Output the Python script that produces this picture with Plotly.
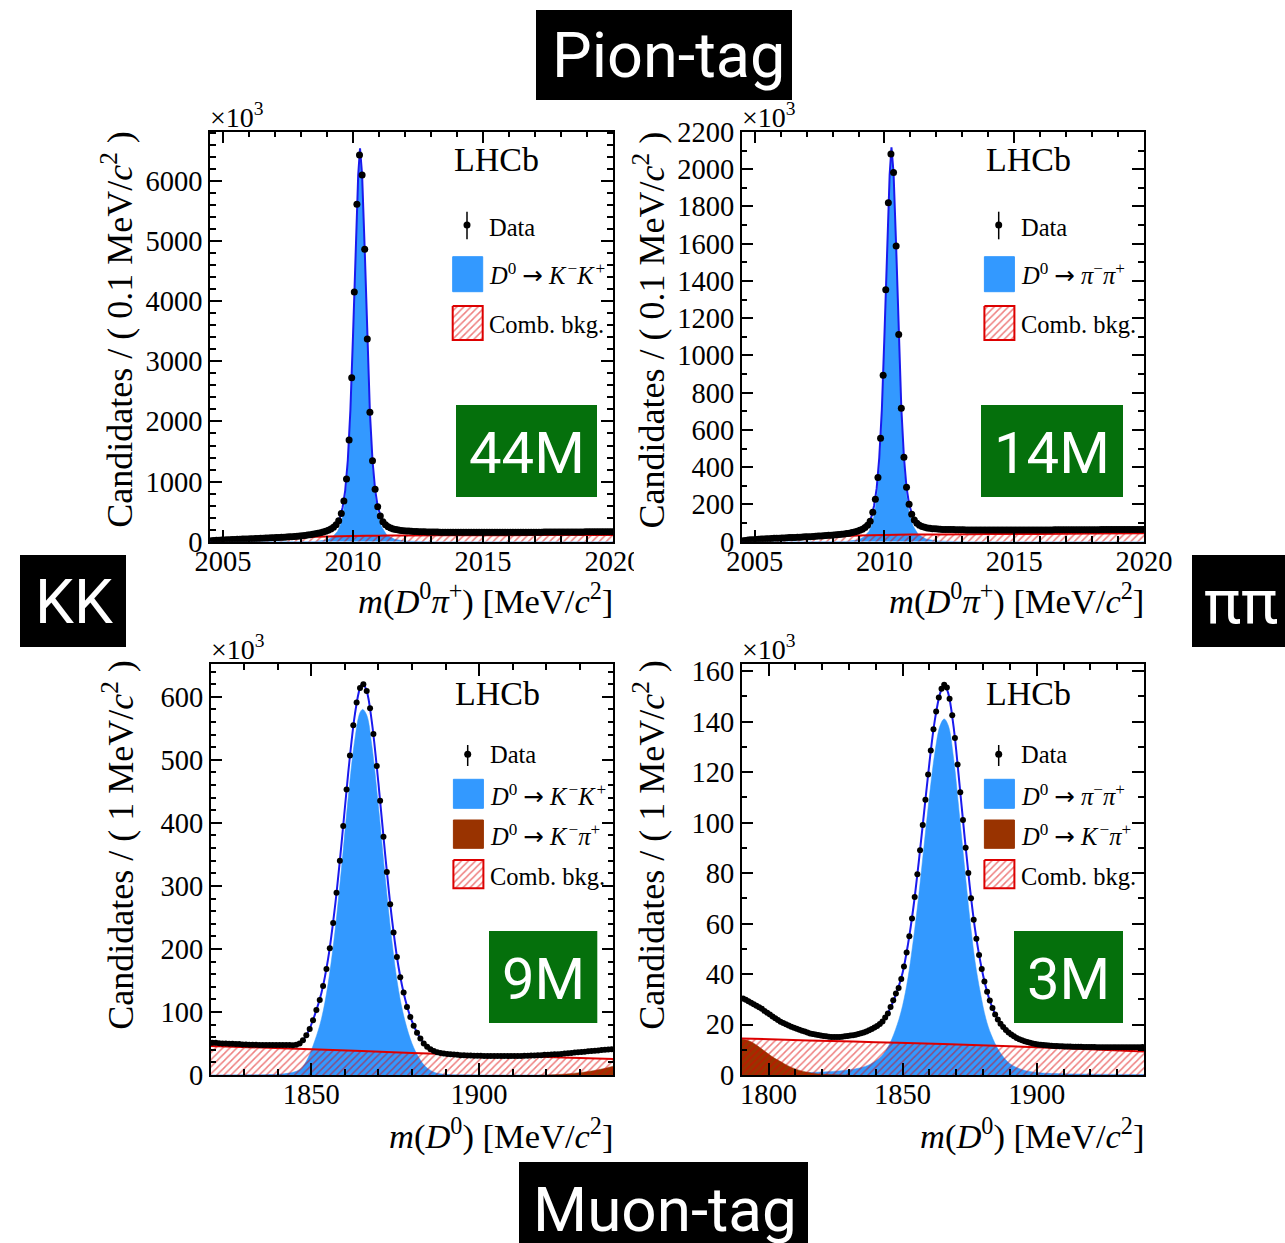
import numpy as np
import plotly.graph_objects as go

W, H = 1285, 1243

# ---------------- Pion-tag, D0 -> K-K+ (top-left) ----------------
tl_bin_start = 2004.5
tl_bin_width = 0.1
tl_counts = [
    15, 20, 23, 26, 28,
    30, 32, 34, 36, 38, 40, 41, 43, 45, 46,
    48, 50, 52, 54, 56, 58, 60, 62, 64, 66,
    68, 70, 72, 75, 78, 81, 84, 87, 90, 94,
    100, 105, 110, 116, 123, 131, 140, 150, 161, 174,
    190, 210, 240, 280, 349, 471, 677, 1043, 1692, 2729,
    4154, 5613, 6434, 6101, 4864, 3372, 2152, 1348, 871, 582,
    427, 333, 283, 250, 228, 213, 202, 194, 188, 183,
    179, 176, 173, 171, 169, 167, 165, 164, 163, 162,
    161, 160, 160, 159, 159, 158, 158, 158, 157, 157,
    157, 157, 156, 156, 156, 156, 156, 156, 156, 156,
    156, 156, 156, 156, 156, 156, 156, 157, 157, 157,
    157, 157, 157, 158, 158, 158, 158, 158, 159, 159,
    159, 159, 159, 160, 160, 160, 160, 161, 161, 161,
    161, 162, 162, 162, 162, 163, 163, 163, 163, 164,
    164, 164, 164, 165, 165, 165, 165, 166, 166, 166,
]
tl_fit_x = [2004.5, 2005, 2006, 2007, 2008, 2008.5, 2009, 2009.2, 2009.4, 2009.5, 2009.6,
            2009.7, 2009.8, 2009.9, 2010.0, 2010.1, 2010.2, 2010.27, 2010.35, 2010.45,
            2010.55, 2010.65, 2010.75, 2010.85, 2010.95, 2011.1, 2011.3, 2011.6, 2012,
            2013, 2015, 2020]
tl_fit_total = [0, 29, 47, 67, 97, 120, 182, 218, 310, 405, 570, 850, 1350, 2190, 3420,
                4880, 6100, 6545, 6101, 4864, 3372, 2152, 1348, 871, 582, 380, 265, 207,
                180, 161, 156, 166]
tl_fit_signal = [0, 0, 0, 0, 0, 3, 30, 75, 170, 260, 420, 700, 1200, 2050, 3290, 4760,
                 6000, 6430, 6000, 4750, 3260, 2040, 1230, 760, 470, 250, 110, 40, 10, 0,
                 0, 0]
tl_comb_x = [2004.5, 2005, 2005.5, 2006, 2007, 2008, 2009, 2010, 2011, 2012, 2014, 2016, 2018, 2020]
tl_comb = [0, 22, 35, 45, 62, 76, 88, 96, 101, 104, 107, 109, 111, 113]

# ---------------- Pion-tag, D0 -> pi-pi+ (top-right) ----------------
tr_bin_start = 2004.5
tr_bin_width = 0.1
tr_counts = [
    5, 7, 9, 10, 11,
    12, 13, 14, 15, 16, 16, 17, 18, 18, 19,
    20, 20, 21, 22, 22, 23, 24, 24, 25, 26,
    26, 27, 28, 29, 30, 31, 32, 33, 34, 35,
    36, 37, 38, 40, 42, 44, 46, 49, 52, 56,
    61, 67, 76, 88, 110, 158, 228, 344, 556, 893,
    1352, 1819, 2081, 1982, 1587, 1112, 717, 454, 292, 201,
    147, 117, 99, 88, 81, 77, 74, 72, 70, 69,
    68, 67, 66, 66, 65, 65, 65, 64, 64, 64,
    64, 63, 63, 63, 63, 63, 63, 63, 63, 63,
    63, 63, 63, 63, 63, 63, 63, 63, 63, 63,
    63, 63, 63, 63, 63, 63, 63, 63, 63, 63,
    63, 63, 63, 63, 63, 64, 64, 64, 64, 64,
    64, 64, 64, 64, 64, 64, 64, 64, 64, 64,
    64, 64, 64, 65, 65, 65, 65, 65, 65, 65,
    65, 65, 65, 65, 66, 66, 66, 66, 66, 66,
]
tr_fit_x = list(tl_fit_x)
tr_fit_total = [0, 11, 20, 26, 36, 44, 58, 70, 99, 134, 193, 286, 450, 710, 1110, 1600,
                1970, 2117, 1982, 1587, 1112, 717, 454, 292, 201, 130, 93, 76, 68, 64,
                63, 66]
tr_fit_signal = [0, 0, 0, 0, 0, 1, 10, 25, 55, 85, 140, 230, 390, 660, 1070, 1560, 1930,
                 2075, 1940, 1545, 1065, 670, 410, 250, 160, 85, 40, 15, 4, 0, 0, 0]
tr_comb_x = list(tl_comb_x)
tr_comb = [0, 9, 14, 18, 24, 29, 33, 36, 38, 39, 41, 42, 44, 45]

# ---------------- Muon-tag, D0 -> K-K+ (bottom-left) ----------------
bl_bin_start = 1820
bl_bin_width = 1
bl_counts = [
    51, 51, 50.5, 50, 50, 49.5, 49.5, 49, 49, 48.5,
    48.5, 48, 48, 48, 47.5, 47.5, 47.5, 47.5, 47.5, 47.5,
    47.5, 47.5, 47.5, 47.5, 47, 48, 50, 55, 63, 73,
    87, 103, 119, 141, 168, 201, 241, 289, 340, 395,
    453, 507, 555, 591, 614, 620, 609, 582, 541, 490,
    435, 378, 322, 271, 226, 187, 155, 131, 108, 92,
    78, 67, 58, 50, 45, 41, 38, 36, 35, 34,
    33.5, 33, 32.5, 32, 31.5, 31.5, 31, 31, 30.5, 30.5,
    30.5, 30, 30, 30, 30, 30, 30, 30, 30, 30,
    30, 30, 30, 30.5, 30.5, 31, 31, 31.5, 31.5, 32,
    32, 32.5, 33, 33, 33.5, 34, 34.5, 35, 35.5, 36,
    36.5, 37, 37.5, 38, 38.5, 39, 39.5, 40, 40.5, 41,
]
bl_fit_x = [1820, 1830, 1838, 1842, 1845, 1847, 1849, 1851, 1853, 1855, 1857, 1859, 1861,
            1863, 1864.5, 1865.3, 1866.5, 1868, 1870, 1872, 1874, 1876, 1878, 1880, 1882,
            1884, 1887, 1890, 1895, 1900, 1910, 1920, 1930, 1940]
bl_fit_total = [51, 48.5, 47.5, 47.5, 47.5, 52.5, 68, 95, 130, 184.5, 265, 367.5, 480, 573,
                614, 621, 609, 561.5, 462.5, 350, 248.5, 171, 119.5, 85, 62.5, 47.5, 37,
                33.5, 31.5, 30.5, 30, 32, 36.5, 41]
bl_fit_signal = [0, 0.2, 0.8, 2, 5, 10.5, 27, 54, 89, 145, 226, 329, 441, 534, 575, 580,
                 571, 524, 426, 314, 213, 134, 84, 50, 28, 13.5, 3.5, 1, 0.2, 0, 0, 0, 0, 0]
bl_comb_x = [1820, 1835, 1850, 1865, 1880, 1895, 1910, 1925, 1940]
bl_comb = [46, 43.5, 41, 38, 35, 32.5, 30, 27.7, 25.5]
bl_kpi_x = [1918, 1922, 1926, 1930, 1934, 1937, 1940]
bl_kpi = [0, 0.4, 1.6, 3.7, 6.8, 10, 14]

# ---------------- Muon-tag, D0 -> pi-pi+ (bottom-right) ----------------
br_bin_start = 1790
br_bin_width = 1
br_counts = [
    30.3, 29.8, 29.2, 28.6, 28.0, 27.4, 26.8, 26.2, 25.4, 24.7,
    24.0, 23.2, 22.5, 21.8, 21.1, 20.6, 20.1, 19.6, 19.1, 18.7,
    18.3, 17.9, 17.5, 17.2, 16.8, 16.4, 16.2, 16.0, 15.8, 15.6,
    15.4, 15.3, 15.2, 15.1, 15.1, 15.1, 15.1, 15.2, 15.3, 15.4,
    15.6, 15.7, 15.9, 16.2, 16.5, 16.8, 17.2, 17.7, 18.2, 18.8,
    19.4, 20.2, 21.2, 22.8, 24.4, 26.9, 29.6, 32.3, 34.5, 38.0,
    43.0, 48.5, 55.0, 62.0, 70.5, 79.5, 89.0, 99.0, 109.0, 119.0,
    128.5, 137.0, 144.0, 149.5, 153.0, 154.6, 153.5, 149.0, 142.5, 133.5,
    123.0, 112.0, 101.0, 90.0, 80.0, 70.0, 61.5, 54.0, 47.5, 42.0,
    37.0, 33.0, 29.5, 26.5, 24.0, 22.0, 20.3, 19.0, 17.8, 16.8,
    16.0, 15.3, 14.7, 14.2, 13.8, 13.4, 13.1, 12.8, 12.5, 12.3,
    12.1, 12.0, 11.9, 11.8, 11.7, 11.6, 11.5, 11.5, 11.4, 11.4,
    11.3, 11.3, 11.3, 11.2, 11.2, 11.2, 11.2, 11.1, 11.1, 11.1,
    11.1, 11.1, 11.0, 11.0, 11.0, 11.0, 11.0, 11.0, 11.0, 11.0,
    11.0, 11.0, 11.0, 11.0, 11.0, 11.0, 11.0, 11.0, 11.0, 11.1,
]
br_fit_x = [1790, 1800, 1810, 1820, 1828, 1834, 1838, 1842, 1845, 1848, 1850, 1852, 1854,
            1856, 1858, 1860, 1862, 1864, 1865.5, 1867, 1869, 1871, 1873, 1875, 1877, 1879,
            1881, 1883, 1886, 1890, 1895, 1900, 1910, 1940]
br_fit_total = [30.4, 24.4, 18.5, 15.5, 15.25, 16.3, 17.9, 20.7, 25.6, 33.4, 40.5, 51.75,
                66.25, 84.25, 104, 123.75, 140.5, 151.25, 154.8, 151.25, 138, 117.5, 95.5,
                75, 57.75, 44.75, 35, 28, 21.2, 16.4, 13.6, 12.2, 11.3, 11.0]
br_fit_signal = [0.5, 0.6, 0.8, 1.2, 1.8, 2.8, 4.3, 7.3, 12.0, 20.0, 27.5, 38.5, 53.5, 71.0,
                 91.0, 110.5, 127.5, 138.5, 141.0, 138.5, 125.5, 105.0, 83.5, 62.5, 45.0,
                 32.5, 22.5, 16.0, 9.5, 4.5, 2.0, 1.0, 0.5, 0.2]
br_comb_x = [1790, 1815, 1840, 1865, 1890, 1915, 1940]
br_comb = [14.5, 13.7, 13.0, 12.3, 11.4, 10.4, 9.3]
br_kpi_x = [1790, 1792, 1794, 1796, 1798, 1800, 1802, 1804, 1806, 1808, 1810, 1812, 1814,
            1816, 1818, 1820, 1825, 1830]
br_kpi = [14.3, 13.8, 12.9, 11.5, 9.9, 8.3, 6.8, 5.6, 4.4, 3.3, 2.4, 1.7, 1.2, 0.8, 0.5,
          0.3, 0.1, 0]

# ---------------- text ----------------
label_top = "Pion-tag"
label_bottom = "Muon-tag"
label_left = "KK"
label_right = "ππ"
yields = ["44M", "14M", "9M", "3M"]
ARROW = ' <span style="font-family:DejaVu Sans">→</span> '
HS = "\u200a"
kk_text = f"<i>D</i><sup>0</sup>{ARROW}<i>K</i>{HS}<sup>−</sup><i>K</i>{HS}<sup>+</sup>"
pipi_text = f"<i>D</i><sup>0</sup>{ARROW}<i>π</i><sup>−</sup><i>π</i><sup>+</sup>"
kpi_text = f"<i>D</i><sup>0</sup>{ARROW}<i>K</i>{HS}<sup>−</sup><i>π</i><sup>+</sup>"
xtitle_top = "<i>m</i>(<i>D</i><sup>0</sup><i>π</i><sup>+</sup>) [MeV/<i>c</i><sup>2</sup>]"
xtitle_bottom = "<i>m</i>(<i>D</i><sup>0</sup>) [MeV/<i>c</i><sup>2</sup>]"
ytitle_top = "Candidates / ( 0.1 MeV/<i>c</i><sup>2</sup> )"
ytitle_bottom = "Candidates / ( 1 MeV/<i>c</i><sup>2</sup> )"

for arr, n in [(tl_counts, 155), (tr_counts, 155), (bl_counts, 120), (br_counts, 150)]:
    assert len(arr) == n

SERIF = "Liberation Serif"
SANS = "Roboto"
BLUE_FILL = "#3399ff"
FIT_LINE = "#1a1aee"
RED = "#dd0000"
BROWN = "#993300"
GREEN = "#05700c"


def px_x(x):
    return x / W


def px_y(y):
    return 1 - y / H


panels = [
    dict(box=(210, 131.7, 613, 541.7), xr=[2004.5, 2020], yr=[0, 6820],
         xt=(2005, 5, 1), yt=(1000, 200), bs=tl_bin_start, bw=tl_bin_width,
         counts=tl_counts, fx=tl_fit_x, ft=tl_fit_total, fs=tl_fit_signal,
         cx=tl_comb_x, cy=tl_comb, kx=None, ky=None, msize=7, shape="linear",
         sig=kk_text, xtitle=xtitle_top, ytitle=ytitle_top, top=True,
         green=(456, 405, 597, 497)),
    dict(box=(741.7, 131.7, 1144, 541.7), xr=[2004.5, 2020], yr=[0, 2201],
         xt=(2005, 5, 1), yt=(200, 100), bs=tr_bin_start, bw=tr_bin_width,
         counts=tr_counts, fx=tr_fit_x, ft=tr_fit_total, fs=tr_fit_signal,
         cx=tr_comb_x, cy=tr_comb, kx=None, ky=None, msize=7, shape="linear",
         sig=pipi_text, xtitle=xtitle_top, ytitle=ytitle_top, top=True,
         green=(981, 405, 1123, 497)),
    dict(box=(210.7, 664, 613.3, 1075), xr=[1820, 1940], yr=[0, 652],
         xt=(1850, 50, 10), yt=(100, 20), bs=bl_bin_start, bw=bl_bin_width,
         counts=bl_counts, fx=bl_fit_x, ft=bl_fit_total, fs=bl_fit_signal,
         cx=bl_comb_x, cy=bl_comb, kx=bl_kpi_x, ky=bl_kpi, msize=6, shape="spline",
         sig=kk_text, xtitle=xtitle_bottom, ytitle=ytitle_bottom, top=False,
         green=(489, 931, 597.3, 1023)),
    dict(box=(741.7, 664, 1144, 1075), xr=[1790, 1940], yr=[0, 162.8],
         xt=(1800, 50, 10), yt=(20, 10), bs=br_bin_start, bw=br_bin_width,
         counts=br_counts, fx=br_fit_x, ft=br_fit_total, fs=br_fit_signal,
         cx=br_comb_x, cy=br_comb, kx=br_kpi_x, ky=br_kpi, msize=6, shape="spline",
         sig=pipi_text, xtitle=xtitle_bottom, ytitle=ytitle_bottom, top=False,
         green=(1014, 931, 1123, 1023)),
]

fig = go.Figure()
layout_axes = {}
annotations = []
shapes = []

hatch = dict(shape="/", fgcolor=RED, bgcolor="rgba(0,0,0,0)", size=5, solidity=0.3)


def ann(text, x, y, size, family=SERIF, color="black", xanchor="left",
        yanchor="middle", angle=0):
    annotations.append(dict(text=text, x=px_x(x), y=px_y(y), xref="paper", yref="paper",
                            showarrow=False, xanchor=xanchor, yanchor=yanchor,
                            textangle=angle, font=dict(family=family, size=size,
                                                       color=color)))


for i, p in enumerate(panels, start=1):
    xa = "x" if i == 1 else f"x{i}"
    ya = "y" if i == 1 else f"y{i}"
    x0, y0, x1, y1 = p["box"]
    centers = p["bs"] + p["bw"] * (np.arange(len(p["counts"])) + 0.5)
    common = dict(xaxis=xa, yaxis=ya, showlegend=False, hoverinfo="skip")
    fig.add_trace(go.Scatter(x=p["fx"], y=p["fs"], mode="lines",
                             line=dict(color=BLUE_FILL, width=0.5, shape=p["shape"]),
                             fill="tozeroy", fillcolor=BLUE_FILL, **common))
    if p["kx"] is not None:
        fig.add_trace(go.Scatter(x=p["kx"], y=p["ky"], mode="lines",
                                 line=dict(color=BROWN, width=0.5, shape="spline"),
                                 fill="tozeroy", fillcolor=BROWN, **common))
    fig.add_trace(go.Scatter(x=p["cx"], y=p["cy"], mode="lines",
                             line=dict(color=RED, width=2, shape="spline"),
                             fill="tozeroy", fillcolor="rgba(0,0,0,0)",
                             fillpattern=hatch, **common))
    fig.add_trace(go.Scatter(x=p["fx"], y=p["ft"], mode="lines",
                             line=dict(color=FIT_LINE, width=2, shape=p["shape"]),
                             **common))
    fig.add_trace(go.Scatter(x=centers, y=p["counts"], mode="markers",
                             marker=dict(color="black", size=p["msize"]), **common))

    axc = dict(showline=True, linecolor="black", linewidth=1.5, mirror="ticks",
               ticks="inside", ticklen=12, tickwidth=1.5, tickcolor="black",
               showgrid=False, zeroline=False,
               tickfont=dict(family=SERIF, size=28.5, color="black"))
    t0, dt, mdt = p["xt"]
    layout_axes["xaxis" if i == 1 else f"xaxis{i}"] = dict(
        domain=[px_x(x0), px_x(x1)], range=p["xr"], anchor=ya, tick0=t0, dtick=dt,
        minor=dict(tick0=t0, dtick=mdt, ticks="inside", ticklen=6, tickwidth=1.5,
                   tickcolor="black"),
        ticklabelstandoff=-7, **axc)
    ydt, ymdt = p["yt"]
    layout_axes["yaxis" if i == 1 else f"yaxis{i}"] = dict(
        domain=[px_y(y1), px_y(y0)], range=p["yr"], anchor=xa, tick0=0, dtick=ydt,
        minor=dict(tick0=0, dtick=ymdt, ticks="inside", ticklen=6, tickwidth=1.5,
                   tickcolor="black"),
        ticklabelstandoff=0, **axc)

    # titles
    ann(p["xtitle"], x1 + 2, y1 + 57 if p["top"] else y1 + 59, 34.5, xanchor="right")
    ycen = y0 + 198 if p["top"] else y0 + 181
    ann(p["ytitle"], x0 - 92, ycen, 36, xanchor="center", angle=-90)
    ann("×10<sup>3</sup>", x0 - 2, y0 + 3, 28, yanchor="bottom")

    # LHCb + legend
    if p["top"]:
        lhcb_y, dot_y, err, data_ty = 27.5, 93.3, (80, 107.6), 96
        entries = [("blue", 125, 160, 143, p["sig"]), ("comb", 174.3, 208.3, 193, "Comb. bkg.")]
    else:
        lhcb_y, dot_y, err, data_ty = 29, 90.3, (81, 102), 91
        entries = [("blue", 115.3, 144.3, 131, p["sig"]), ("brown", 156, 184.3, 171, kpi_text),
                   ("comb", 196, 224.3, 212, "Comb. bkg.")]
    ann("LHCb", x0 + 242, y0 + lhcb_y, 34)
    ann("Data", x0 + 277, y0 + data_ty, 24.5)
    leg = dict(xaxis="x5", yaxis="y5", showlegend=False, hoverinfo="skip")
    fig.add_trace(go.Scatter(x=[x0 + 257, x0 + 257], y=[y0 + err[0], y0 + err[1]],
                             mode="lines", line=dict(color="black", width=1.5), **leg))
    fig.add_trace(go.Scatter(x=[x0 + 257], y=[y0 + dot_y], mode="markers",
                             marker=dict(color="black", size=7), **leg))
    for kind, ya0, ya1, ty, text in entries:
        bx = [x0 + 242.7, x0 + 272.7, x0 + 272.7, x0 + 242.7, x0 + 242.7]
        by = [y0 + ya0, y0 + ya0, y0 + ya1, y0 + ya1, y0 + ya0]
        if kind == "comb":
            fig.add_trace(go.Scatter(x=bx, y=by, mode="lines", fill="toself",
                                     fillcolor="rgba(0,0,0,0)", fillpattern=hatch,
                                     line=dict(color=RED, width=2), **leg))
        else:
            col = BLUE_FILL if kind == "blue" else BROWN
            fig.add_trace(go.Scatter(x=bx, y=by, mode="lines", fill="toself",
                                     fillcolor=col, line=dict(color=col, width=1), **leg))
        ann(text, x0 + 277, y0 + ty, 24.5)

    gx0, gy0, gx1, gy1 = p["green"]
    shapes.append(dict(type="rect", xref="paper", yref="paper", x0=px_x(gx0), x1=px_x(gx1),
                       y0=px_y(gy1), y1=px_y(gy0), fillcolor=GREEN, line=dict(width=0),
                       layer="above"))
    ann(yields[i - 1], (gx0 + gx1) / 2, (gy0 + gy1) / 2 + 2, 58, family=SANS, color="white",
        xanchor="center")

# black category labels
for text, bx0, by0, bx1, by1, cx, cy, fs in [
    (label_top, 536, 10, 792, 100, 668, 56, 63),
    (label_left, 20, 555, 126, 647, 74, 601, 62),
    (label_right, 1192, 555, 1285, 647, 1241, 601, 62),
    (label_bottom, 519, 1162, 808, 1243, 665, 1209, 62),
]:
    shapes.append(dict(type="rect", xref="paper", yref="paper", x0=px_x(bx0), x1=px_x(bx1),
                       y0=px_y(by1), y1=px_y(by0), fillcolor="black", line=dict(width=0),
                       layer="above"))
    ann(text, cx, cy, fs, family=SANS, color="white", xanchor="center")

# clip of the top-left "2020" label as in the original
shapes.append(dict(type="rect", xref="paper", yref="paper", x0=px_x(634), x1=px_x(700),
                   y0=px_y(585), y1=px_y(544), fillcolor="white", line=dict(width=0),
                   layer="above"))

layout_axes["xaxis5"] = dict(domain=[0, 1], range=[0, W], visible=False, anchor="y5",
                             fixedrange=True)
layout_axes["yaxis5"] = dict(domain=[0, 1], range=[H, 0], visible=False, anchor="x5",
                             fixedrange=True)

fig.update_layout(width=W, height=H,
                  margin=dict(l=0, r=0, t=0, b=0, pad=0, autoexpand=False),
                  paper_bgcolor="white", plot_bgcolor="rgba(0,0,0,0)",
                  showlegend=False, annotations=annotations, shapes=shapes,
                  **layout_axes)

fig.write_html("out.html", config={"displayModeBar": False},
               post_script="document.body.style.margin='0';")
